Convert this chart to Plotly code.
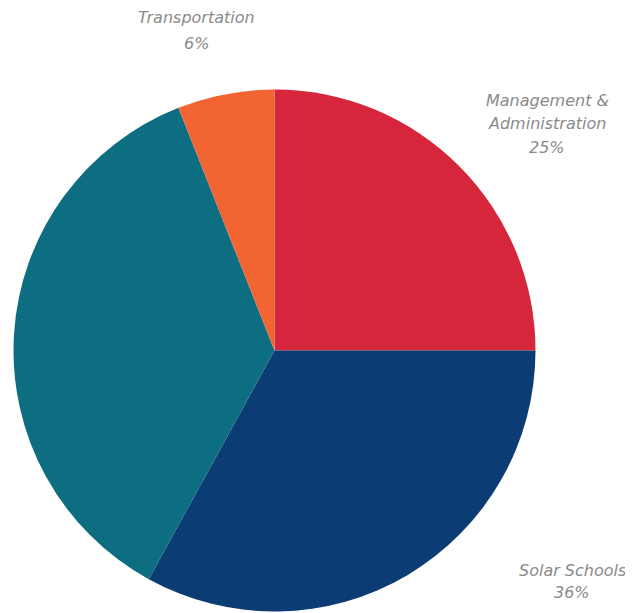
import plotly.graph_objects as go

# Data (clockwise from 12 o'clock)
categories = ["Management & Administration", "Other", "Solar Schools", "Transportation"]
values = [25, 33, 36, 6]
colors = ["#D6263B", "#0C3C74", "#0E6E81", "#F26533"]
# label lines shown around the pie (the dark-blue slice has no visible label)
label_lines = {
    "Management & Administration": ["Management &", "Administration"],
    "Solar Schools": ["Solar Schools"],
    "Transportation": ["Transportation"],
}

W, H = 633, 613
OFF = 8  # page body margin
# label anchor positions in window pixels (centre x, first-line y, line gap)
label_pos = {
    "Management & Administration": (547, 100, 23.5),
    "Solar Schools": (572, 570, 22),
    "Transportation": (197, 18, 25),
}

cx_pie, cy_pie, r_pie = 274.5 - OFF, 350.5 - OFF, 261

fig = go.Figure(go.Pie(
    labels=categories,
    values=values,
    marker=dict(colors=colors, line=dict(width=0)),
    sort=False,
    direction="clockwise",
    rotation=0,
    textinfo="none",
    showlegend=False,
    domain=dict(x=[(cx_pie - r_pie) / W, (cx_pie + r_pie) / W],
                y=[(H - cy_pie - r_pie) / H, (H - cy_pie + r_pie) / H]),
))

annotations = []
font = dict(family="DejaVu Sans, sans-serif", size=16, color="#8a8a8a", style="italic")
for cat, val in zip(categories, values):
    if cat not in label_pos:
        continue
    cx, y0, gap = label_pos[cat]
    lines = label_lines[cat] + [f"{val}%"]
    for i, line in enumerate(lines):
        annotations.append(dict(
            text=line, x=(cx - OFF) / W, y=1 - (y0 - OFF + i * gap) / H,
            xref="paper", yref="paper", xanchor="center", yanchor="middle",
            showarrow=False, font=font,
        ))

fig.update_layout(
    width=W, height=H,
    margin=dict(l=0, r=0, t=0, b=0),
    paper_bgcolor="white", plot_bgcolor="white",
    annotations=annotations,
)

fig.write_html("out.html")
